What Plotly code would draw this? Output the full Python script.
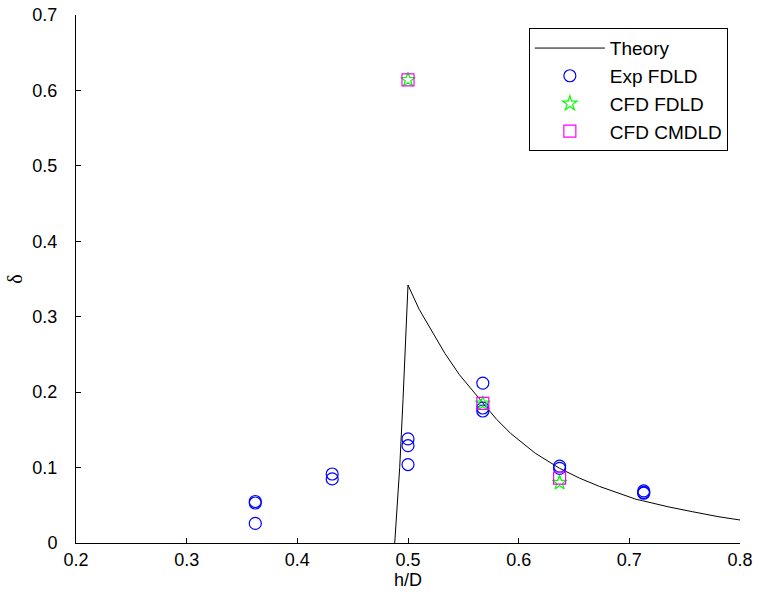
import plotly.graph_objects as go

# Theoretical damping ratio vs. fill depth
theory_hd = [0.488, 0.4925, 0.4955, 0.4985, 0.500, 0.510, 0.521, 0.5335, 0.5465,
             0.5556, 0.567, 0.580, 0.593, 0.615, 0.637, 0.655, 0.673, 0.690,
             0.706, 0.712, 0.735, 0.757, 0.780, 0.800]
theory_delta = [0.000, 0.100, 0.190, 0.280, 0.342, 0.310, 0.282, 0.251, 0.223,
                0.207, 0.186, 0.164, 0.145, 0.119, 0.099, 0.086, 0.075, 0.066,
                0.058, 0.056, 0.048, 0.0415, 0.035, 0.0305]

# Experimental results, fully damped liquid damper
exp_hd = [0.362, 0.362, 0.362, 0.4315, 0.4315, 0.500, 0.500, 0.500,
          0.5676, 0.5676, 0.5676, 0.637, 0.637, 0.713, 0.713, 0.713]
exp_delta = [0.055, 0.053, 0.026, 0.0915, 0.085, 0.138, 0.129, 0.104,
             0.212, 0.179, 0.175, 0.102, 0.099, 0.069, 0.067, 0.066]

# CFD results
cfd_fdld_hd = [0.500, 0.5676, 0.637]
cfd_fdld_delta = [0.614, 0.185, 0.080]
cfd_cmdld_hd = [0.500, 0.5676, 0.637]
cfd_cmdld_delta = [0.614, 0.185, 0.086]

x_ticks = [0.2, 0.3, 0.4, 0.5, 0.6, 0.7, 0.8]
y_ticks = [0, 0.1, 0.2, 0.3, 0.4, 0.5, 0.6, 0.7]

fig = go.Figure()
fig.add_trace(go.Scatter(x=theory_hd, y=theory_delta, mode="lines", name="Theory",
                         line=dict(color="black", width=1), legendgroup="a"))
fig.add_trace(go.Scatter(x=exp_hd, y=exp_delta, mode="markers", name="Exp FDLD",
                         marker=dict(symbol="circle-open", size=12, color="#0000ff",
                                     line=dict(width=1.2)), legendgroup="b"))
fig.add_trace(go.Scatter(x=cfd_fdld_hd, y=cfd_fdld_delta, mode="markers", name="CFD FDLD",
                         marker=dict(symbol="star-open", size=11, color="#00ff00",
                                     line=dict(width=1.2)), legendgroup="c"))
fig.add_trace(go.Scatter(x=cfd_cmdld_hd, y=cfd_cmdld_delta, mode="markers", name="CFD CMDLD",
                         marker=dict(symbol="square-open", size=12, color="#ff00ff",
                                     line=dict(width=1.2)), legendgroup="d"))

axis_common = dict(showgrid=False, zeroline=False, showline=True, linecolor="black",
                   linewidth=1, ticks="inside", ticklen=5, tickcolor="black",
                   mirror=False, automargin=False,
                   tickfont=dict(family="Liberation Sans", size=18, color="black"))

fig.update_layout(
    width=759, height=596,
    margin=dict(l=76, r=19, t=15, b=53),
    paper_bgcolor="white", plot_bgcolor="white",
    xaxis=dict(range=[0.2, 0.8], tickvals=x_ticks, ticktext=[f"{v:g}" for v in x_ticks],
               title=dict(text="h/D", font=dict(family="Liberation Sans", size=18, color="black"),
                          standoff=4),
               **axis_common),
    yaxis=dict(range=[0, 0.7], tickvals=y_ticks, ticktext=[f"{v:g}" for v in y_ticks],
               ticklabelstandoff=14,
               title=dict(text="δ", font=dict(family="Liberation Serif", size=20, color="black"),
                          standoff=4),
               **axis_common),
    legend=dict(x=0.682, y=0.975, xanchor="left", yanchor="top",
                bordercolor="black", borderwidth=1, bgcolor="white",
                font=dict(family="Liberation Sans", size=19, color="black"),
                traceorder="grouped", tracegroupgap=0, itemwidth=70),
    showlegend=True,
)

fig.write_html("out.html")
